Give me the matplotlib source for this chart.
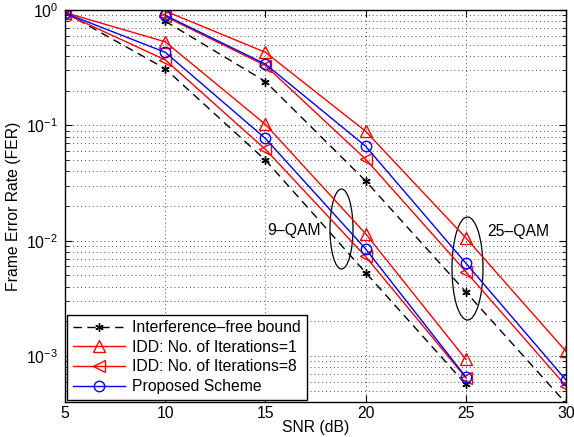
import matplotlib
matplotlib.use("Agg")
import matplotlib.pyplot as plt
from matplotlib.patches import Ellipse
from matplotlib.ticker import LogLocator, NullFormatter

plt.rcParams['font.family'] = ['Liberation Sans', 'DejaVu Sans']

# 9-QAM curves
snr9 = [5, 10, 15, 20, 25]
free9 = [0.95, 0.31, 0.050, 0.0053, 0.00057]
idd1_9 = [0.95, 0.53, 0.102, 0.0115, 0.00094]
idd8_9 = [0.93, 0.37, 0.062, 0.0073, 0.00065]
prop9 = [0.94, 0.43, 0.077, 0.0085, 0.00066]

# 25-QAM curves
snr25 = [10, 15, 20, 25, 30]
free25 = [0.80, 0.24, 0.033, 0.0036, 0.00039]
idd1_25 = [0.98, 0.43, 0.089, 0.0106, 0.0011]
idd8_25 = [0.88, 0.33, 0.051, 0.0054, 0.00055]
prop25 = [0.90, 0.34, 0.066, 0.0064, 0.00062]

labels = ['Interference\u2013free bound', 'IDD: No. of Iterations=1',
          'IDD: No. of Iterations=8', 'Proposed Scheme']

fs = 11.3
fig = plt.figure(figsize=(5.74, 4.37), dpi=100)
ax = fig.add_axes([65 / 574, 1 - 402 / 437, 501 / 574, 392 / 437])

star = (6, 2, 0)
lw = 1.0
for snr, fr, i1, i8, pr, lab in [(snr9, free9, idd1_9, idd8_9, prop9, True),
                                (snr25, free25, idd1_25, idd8_25, prop25, False)]:
    ax.plot(snr, fr, 'k--', marker=star, ms=6, lw=lw, dashes=(6, 4),
            label=labels[0] if lab else None)
    ax.plot(snr, i1, '-', color='red', marker='^', ms=9, mfc='none', mew=1.0, lw=lw,
            label=labels[1] if lab else None)
    ax.plot(snr, i8, '-', color='red', marker='<', ms=9, mfc='none', mew=1.0, lw=lw,
            label=labels[2] if lab else None)
    ax.plot(snr, pr, '-', color='blue', marker='o', ms=7.5, mfc='none', mew=1.0, lw=lw,
            label=labels[3] if lab else None)

ax.set_yscale('log')
ax.set_xlim(5, 30)
ax.set_ylim(4e-4, 1)
ax.set_xticks([5, 10, 15, 20, 25, 30])
ax.yaxis.set_minor_locator(LogLocator(base=10, subs=range(2, 10)))
ax.yaxis.set_minor_formatter(NullFormatter())
ax.tick_params(which='both', direction='in', top=True, right=True, labelsize=fs)
ax.tick_params(which='major', length=5)
ax.tick_params(axis='y', which='major', pad=5)
ax.tick_params(axis='x', which='major', pad=3)
ax.tick_params(which='minor', length=3)
dots = (0, (1, 3))
ax.grid(True, which='major', linestyle=dots, color='0.3', lw=0.7)
ax.grid(True, which='minor', axis='y', linestyle=dots, color='0.3', lw=0.7)
for s in ax.spines.values():
    s.set_linewidth(1.0)

ax.set_xlabel('SNR (dB)', fontsize=fs, labelpad=-1)
ax.set_ylabel('Frame Error Rate (FER)', fontsize=fs, labelpad=4)

# ellipses marking the two groups (axes fraction coordinates)
ax.add_patch(Ellipse(((341.5 - 65) / 501, 1 - (229 - 10) / 392), 23 / 501, 80 / 392,
                     transform=ax.transAxes, fill=False, ec='black', lw=0.9))
ax.add_patch(Ellipse(((467.5 - 65) / 501, 1 - (268.5 - 10) / 392), 31 / 501, 103 / 392,
                     transform=ax.transAxes, fill=False, ec='black', lw=0.9))
ax.text((294 - 65) / 501, 1 - (230 - 10) / 392, '9\u2013QAM', transform=ax.transAxes,
        ha='center', va='center', fontsize=fs)
ax.text((518 - 65) / 501, 1 - (231 - 10) / 392, '25\u2013QAM', transform=ax.transAxes,
        ha='center', va='center', fontsize=fs)

leg = ax.legend(loc='lower left', fontsize=fs, handlelength=3.3, borderaxespad=0.15,
                fancybox=False, edgecolor='black', framealpha=1, labelspacing=0.3,
                borderpad=0.35, handletextpad=0.5)
leg.get_frame().set_linewidth(1.0)

fig.savefig('out.png', dpi=100)
